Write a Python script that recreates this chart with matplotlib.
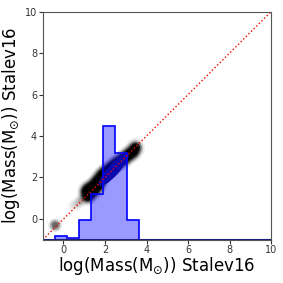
import matplotlib
matplotlib.use("Agg")
import matplotlib.pyplot as plt
import numpy as np
from matplotlib.patches import Ellipse

# histogram (19 bins from -1 to 10), heights above baseline -1
hist_base = -1
hist_edges = np.linspace(-1, 10, 20)
hist_vals = [0.0, 0.16, 0.06, 0.95, 2.2, 5.48, 4.16, 0.95, 0, 0, 0, 0, 0, 0, 0, 0, 0, 0, 0]

# dense cloud of matched masses (x, y)
cloud_x = [1.1, 1.2, 1.3, 1.4, 1.5, 1.6, 1.7, 1.8, 1.9, 2.0, 2.15, 2.3,
           2.45, 2.6, 2.75, 2.9, 3.05, 3.2, 3.35, 3.45, 1.25, 1.45, 1.65, 1.15]
cloud_y = [1.35, 1.45, 1.5, 1.6, 1.7, 1.85, 1.95, 2.05, 2.15, 2.25, 2.35, 2.5,
           2.6, 2.75, 2.85, 2.95, 3.1, 3.2, 3.3, 3.45, 1.2, 1.4, 1.65, 1.1]
# faint outliers
faint_x = [0.5, 0.7, 0.85, -0.4]
faint_y = [0.65, 0.75, 0.9, -0.3]
faint_a = [0.05, 0.07, 0.1, 0.35]

fig = plt.figure(figsize=(2.83, 2.83), dpi=100)
ax = fig.add_axes([0.151, 0.153, 0.807, 0.806])

# soft blobs: several layers per point
for s, a in [(200, 0.06), (130, 0.15), (80, 0.4), (40, 0.9)]:
    ax.scatter(cloud_x, cloud_y, s=s, c='black', alpha=a, lw=0)
for s, m in [(90, 0.4), (50, 0.8), (20, 1.0)]:
    ax.scatter(faint_x, faint_y, s=s, c='black', alpha=[v * m for v in faint_a], lw=0)

ax.add_patch(Ellipse((2.42, 2.38), 2.1, 0.55, angle=48, color='#101078', lw=0))

tops = [hist_base + h for h in hist_vals]
ax.stairs(tops, hist_edges, baseline=hist_base, fill=True, color='blue', alpha=0.4, lw=0)
ax.stairs(tops, hist_edges, baseline=hist_base, fill=False, color='blue', lw=1.2)
ax.plot([-1, 10], [-1, -1], color='#1a1a80', lw=1.5)

ax.plot([-1, 10], [-1, 10], color='red', ls=':', lw=1)

ax.set_xlim(-1, 10)
ax.set_ylim(-1, 10)
ax.set_xticks([0, 2, 4, 6, 8, 10])
ax.set_yticks([0, 2, 4, 6, 8, 10])
ax.tick_params(labelsize=7, length=3, width=0.8, colors='#333333', pad=1)
for sp in ax.spines.values():
    sp.set_color('#555555')
lab = r'log(Mass(M$_{\odot}$)) Stalev16'
ax.set_xlabel(lab, fontsize=12, labelpad=0)
ax.set_ylabel(lab, fontsize=12, labelpad=2)

fig.savefig('out.png', dpi=100)
